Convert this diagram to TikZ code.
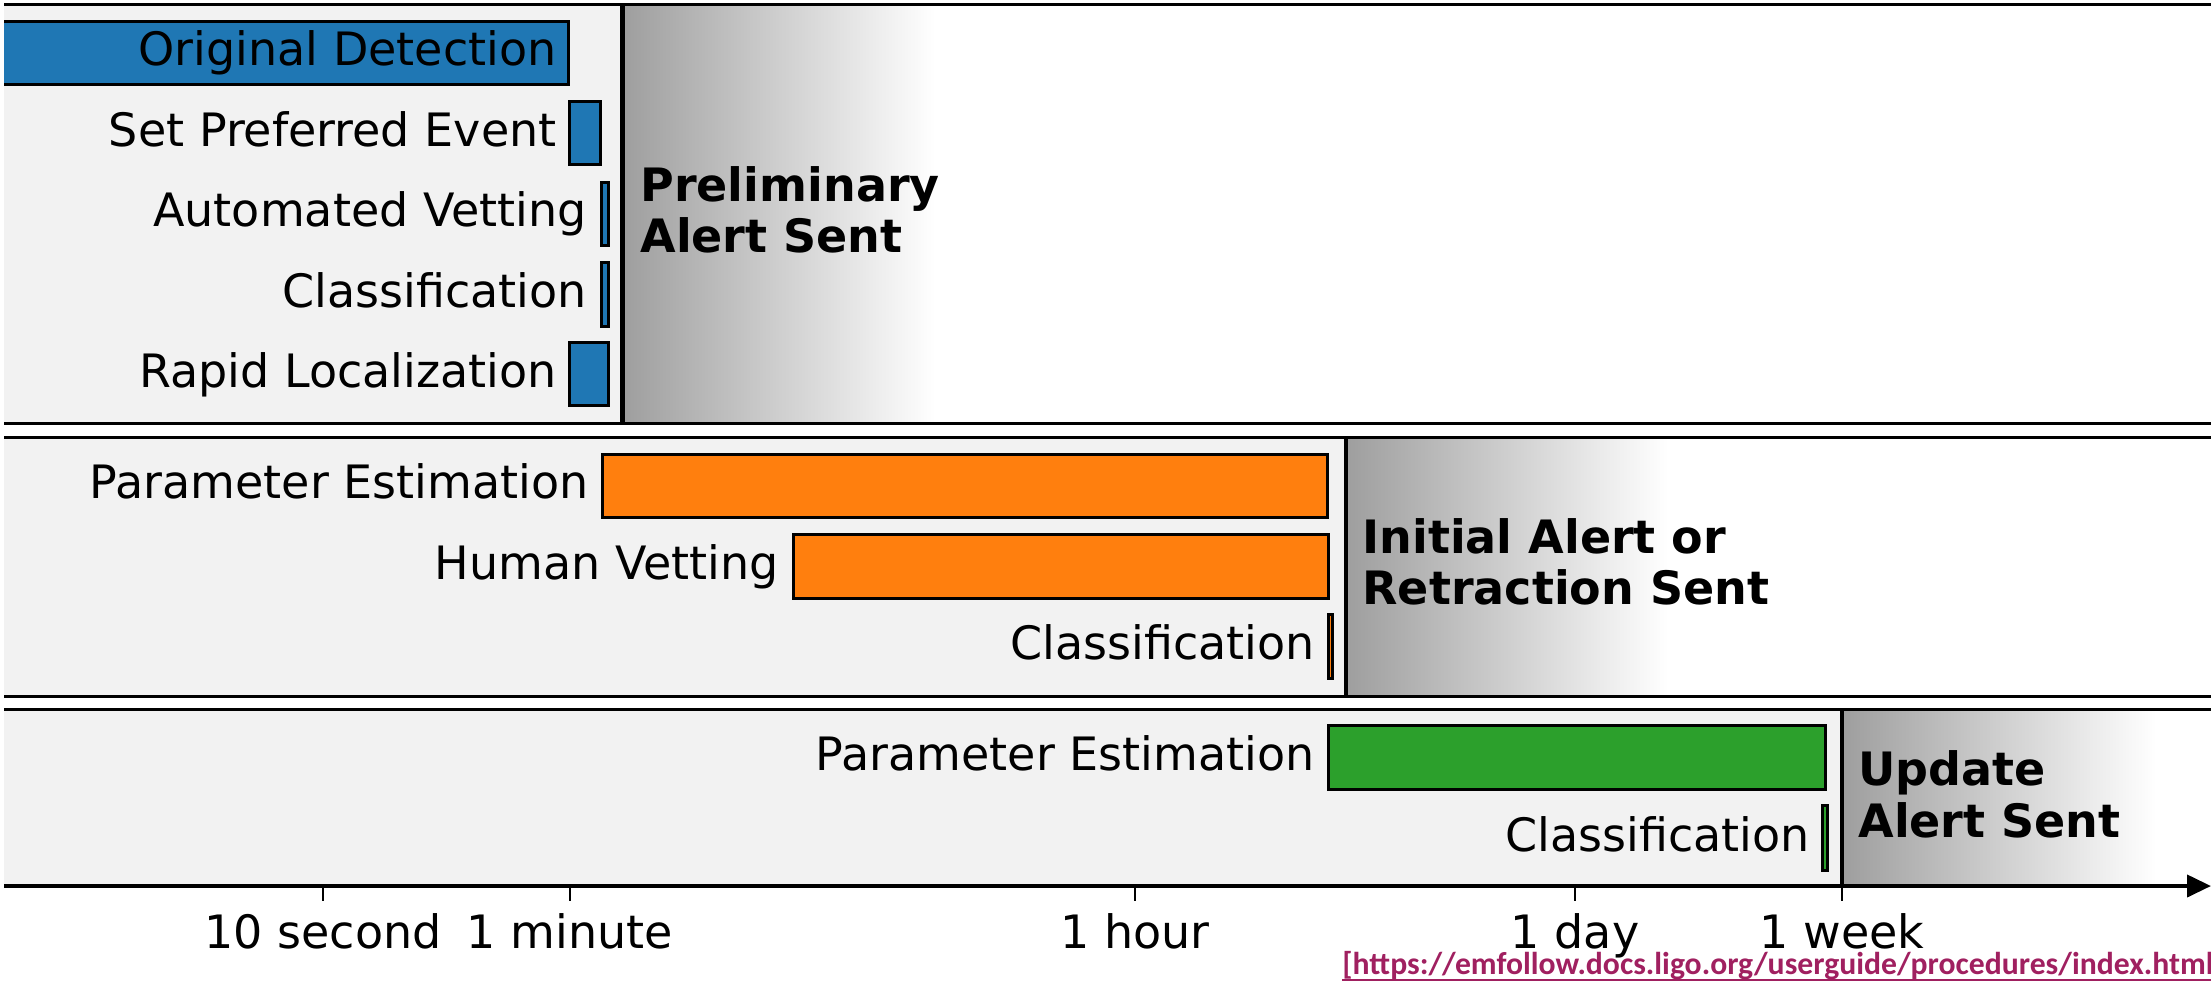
\documentclass[tikz,border=0pt]{standalone}
\usepackage{fontspec}
\setmainfont{DejaVu Sans}
\newfontfamily\linkfont{Carlito}
\usetikzlibrary{arrows.meta}
\definecolor{panelgray}{HTML}{F2F2F2}
\definecolor{shadegray}{HTML}{9E9E9E}
\definecolor{barblue}{HTML}{1F77B4}
\definecolor{barorange}{HTML}{FF7F0E}
\definecolor{bargreen}{HTML}{2CA02C}
\definecolor{linkcol}{RGB}{160,32,96}
\begin{document}
\begin{tikzpicture}[x=0.5pt,y=-0.5pt,
  panelline/.style={line width=1.5pt},
  alertline/.style={line width=2.25pt},
  bar/.style={draw=black,line width=1.5pt},
  lbl/.style={font=\fontsize{23}{27}\selectfont,inner sep=0pt,anchor=base east},
  alertlbl/.style={font=\fontsize{23}{27}\selectfont\bfseries,inner sep=0pt,anchor=base west},
  ticklbl/.style={font=\fontsize{23}{27}\selectfont,inner sep=0pt,anchor=base},
  tickmark/.style={line width=1pt},
  fade/.style={left color=shadegray,right color=white,draw=none},
]
\useasboundingbox (0,0) rectangle (2211,981);
\begin{scope}
\clip (0,0) rectangle (2211,981);

% panel backgrounds and fading bands after each alert
\fill[panelgray] (4,4) rectangle (622.5,423);
\shade[fade] (622.5,4) rectangle (935,423);
\fill[panelgray] (4,437) rectangle (1346,696);
\shade[fade] (1346,437) rectangle (1668,696);
\fill[panelgray] (4,709) rectangle (1842,886);
\shade[fade] (1842,709) rectangle (2156,886);

% panel borders
\foreach \yy in {4,423,437,696,709}
  \draw[panelline] (4,\yy) -- (2211,\yy);

% alert markers
\draw[alertline] (622.5,4) -- (622.5,423);
\draw[alertline] (1346,437) -- (1346,696);
\draw[alertline] (1842,709) -- (1842,886);

% stage 1: preliminary
\fill[barblue] (4,21.5) rectangle (568.5,84.5);
\draw[line width=1.5pt] (4,21.5) -- (568.5,21.5) -- (568.5,84.5) -- (4,84.5);
\path[bar,fill=barblue] (569.5,101.5) rectangle (600.5,164.5);
\path[bar,fill=barblue] (601.5,182.5) rectangle (608.5,245.5);
\path[bar,fill=barblue] (601.5,262.5) rectangle (608.5,326.5);
\path[bar,fill=barblue] (569.5,342.5) rectangle (608.5,405.5);

\node[lbl] (od)  at (557,65)  {Original Detection};
\node[lbl] (spe) at (557,146) {Set Preferred Event};
\node[lbl] (av)  at (587,226) {Automated Vetting};
\node[lbl] (cl1) at (587,307) {Classification};
\node[lbl] (rl)  at (557,387) {Rapid Localization};

\node[alertlbl] (prelimA) at (640,201) {Preliminary};
\node[alertlbl] (prelimB) at (640,252) {Alert Sent};

% stage 2: initial
\path[bar,fill=barorange] (602.5,454.5) rectangle (1327.5,517.5);
\path[bar,fill=barorange] (793.5,534.5) rectangle (1328.5,598.5);
\path[bar,fill=barorange] (1328,614.5) rectangle (1332,678.5);

\node[lbl] (pe2) at (589,498)  {Parameter Estimation};
\node[lbl] (hv)  at (779,579)  {Human Vetting};
\node[lbl] (cl2) at (1315,659) {Classification};

\node[alertlbl] (initA) at (1362,553) {Initial Alert or};
\node[alertlbl] (initB) at (1362,604) {Retraction Sent};

% stage 3: update
\path[bar,fill=bargreen] (1328.5,725.5) rectangle (1825.5,789.5);
\path[bar,fill=bargreen] (1822.5,805.5) rectangle (1827.5,870.5);

\node[lbl] (pe3) at (1315,770) {Parameter Estimation};
\node[lbl] (cl3) at (1810,851) {Classification};

\node[alertlbl] (updA) at (1858,785) {Update};
\node[alertlbl] (updB) at (1858,837) {Alert Sent};

% time axis (log scale)
\draw[line width=2pt,-{Triangle[length=12pt,width=11pt]}] (4,886) -- (2211,886);
\foreach \tx/\tname/\ttext in {323/t10s/10 second,570/t1m/1 minute,1135/t1h/1 hour,1575/t1d/1 day,1842/t1w/1 week}{
  \draw[tickmark] (\tx,888) -- (\tx,901);
  \node[ticklbl] (\tname) at (\tx,948) {\ttext};
}

% source reference
\node[font=\linkfont\bfseries\fontsize{15.85}{19}\selectfont,text=linkcol,inner sep=0pt,anchor=base west] (src) at (1342,974) {[https://emfollow.docs.ligo.org/userguide/procedures/index.html};
\draw[linkcol,line width=1pt] (src.south west) -- (src.south east);
\end{scope}
\end{tikzpicture}
\end{document}
